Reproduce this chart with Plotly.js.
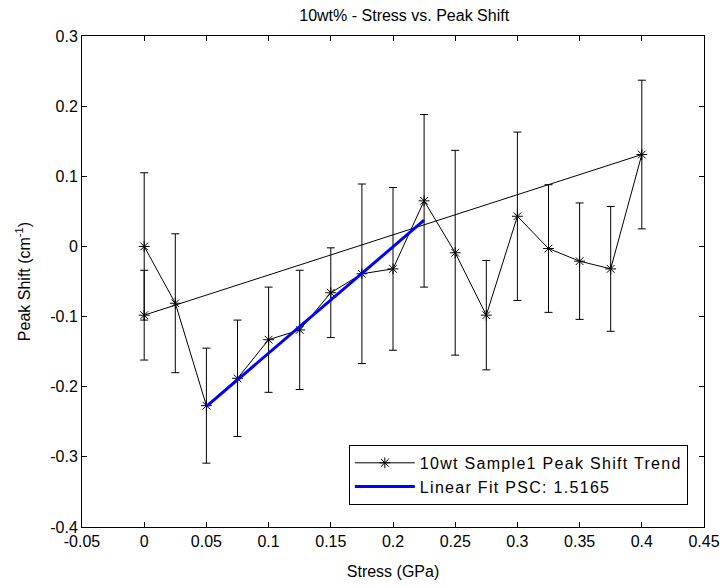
<!DOCTYPE html>
<html>
<head>
<meta charset="utf-8">
<script src="https://cdn.plot.ly/plotly-3.0.1.min.js"></script>
<style>html,body{margin:0;padding:0;background:#fff;}#chart{width:728px;height:586px;}</style>
</head>
<body>
<div id="chart"></div>
<script>
// Measured stress (GPa) and peak shift (cm^-1), loading then unloading back to 0
const stress = [0, 0.025, 0.05, 0.075, 0.1, 0.125, 0.15, 0.175, 0.2, 0.225, 0.25, 0.275, 0.3, 0.325, 0.35, 0.375, 0.4, 0];
const peakShift = [0, -0.081, -0.227, -0.188, -0.133, -0.119, -0.066, -0.039, -0.032, 0.065, -0.009, -0.098, 0.043, -0.003, -0.021, -0.032, 0.131, -0.098];
const shiftError = [0.105, 0.099, 0.082, 0.083, 0.075, 0.085, 0.064, 0.128, 0.116, 0.123, 0.146, 0.078, 0.12, 0.091, 0.083, 0.089, 0.106, 0.064];

// Linear fit line endpoints
const fitX = [0.05, 0.225];
const fitY = [-0.228, 0.0374];

const seriesNames = ['10wt Sample1 Peak Shift Trend', 'Linear Fit PSC: 1.5165'];
const xTickVals = [-0.05, 0, 0.05, 0.1, 0.15, 0.2, 0.25, 0.3, 0.35, 0.4, 0.45];
const xTickText = ['-0.05', '0', '0.05', '0.1', '0.15', '0.2', '0.25', '0.3', '0.35', '0.4', '0.45'];
const yTickVals = [-0.4, -0.3, -0.2, -0.1, 0, 0.1, 0.2, 0.3];
const yTickText = ['-0.4', '-0.3', '-0.2', '-0.1', '0', '0.1', '0.2', '0.3'];

const FONT = 'Liberation Sans, Arial, sans-serif';
const spaced = s => '<span style="letter-spacing:1.3px">' + s + '</span>';

const traces = [
  {
    x: stress, y: peakShift, type: 'scatter', mode: 'lines+markers',
    name: spaced(seriesNames[0]),
    line: {color: '#000', width: 1},
    marker: {symbol: 'asterisk-open', size: 9, color: '#000', line: {color: '#000', width: 1}},
    error_y: {type: 'data', array: shiftError, visible: true, color: '#000', thickness: 1, width: 4}
  },
  {
    x: fitX, y: fitY, type: 'scatter', mode: 'lines',
    name: spaced(seriesNames[1]),
    line: {color: 'rgb(0,0,255)', width: 3}
  }
];

const axisCommon = {
  showgrid: false, zeroline: false, showline: true, linecolor: '#000', linewidth: 1,
  mirror: 'ticks', ticks: 'inside', ticklen: 5, tickcolor: '#000', tickwidth: 1,
  tickfont: {family: FONT, size: 16, color: '#000'}, tickmode: 'array'
};

const layout = {
  width: 728, height: 586,
  margin: {l: 82, r: 24, t: 36, b: 59},
  paper_bgcolor: '#fff', plot_bgcolor: '#fff',
  font: {family: FONT, size: 16, color: '#000'},
  title: {text: '10wt% - Stress vs. Peak Shift', font: {family: FONT, size: 16, color: '#000'},
          x: 0.518, xref: 'paper', xanchor: 'center', y: 1 - 15 / 586, yref: 'container', yanchor: 'middle'},
  xaxis: Object.assign({}, axisCommon, {
    range: [-0.05, 0.45], tickvals: xTickVals, ticktext: xTickText,
    title: {text: 'Stress (GPa)', font: {family: FONT, size: 16, color: '#000'}, standoff: 16}
  }),
  yaxis: Object.assign({}, axisCommon, {
    range: [-0.4, 0.3], tickvals: yTickVals, ticktext: yTickText,
    title: {text: 'Peak Shift (cm<sup>-1</sup>)', font: {family: FONT, size: 16, color: '#000'}, standoff: 15}
  }),
  showlegend: true,
  legend: {
    x: 0.974, xanchor: 'right', y: 0.045, yanchor: 'bottom',
    bgcolor: '#fff', bordercolor: '#000', borderwidth: 1, itemwidth: 60,
    font: {family: FONT, size: 16, color: '#000'}
  }
};

Plotly.newPlot('chart', traces, layout, {displayModeBar: false, staticPlot: true});
</script>
</body>
</html>
